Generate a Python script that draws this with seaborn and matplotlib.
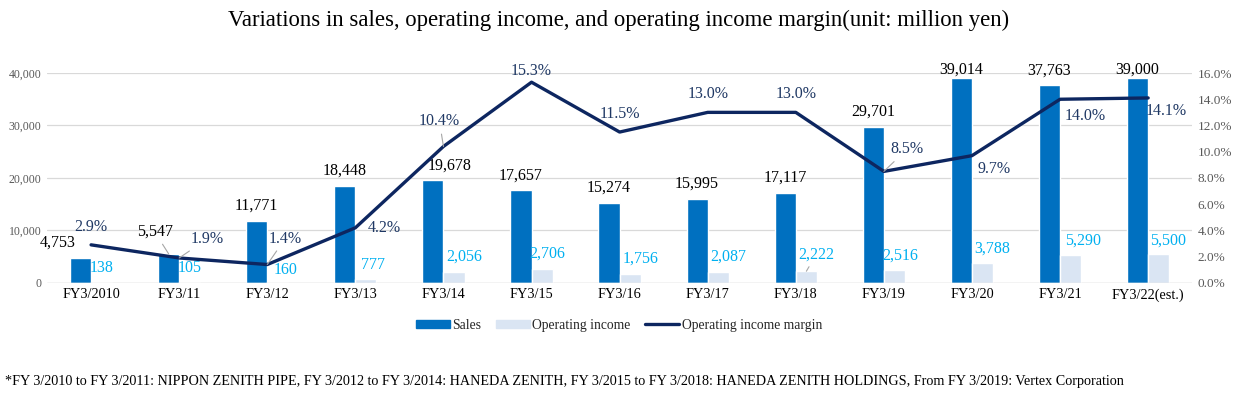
import numpy as np
import pandas as pd
import seaborn as sns
import matplotlib.pyplot as plt
from matplotlib.patches import Patch
from matplotlib.lines import Line2D

# chart data (million yen)
years = ["FY3/2010", "FY3/11", "FY3/12", "FY3/13", "FY3/14", "FY3/15", "FY3/16",
         "FY3/17", "FY3/18", "FY3/19", "FY3/20", "FY3/21", "FY3/22(est.)"]
sales = [4753, 5547, 11771, 18448, 19678, 17657, 15274, 15995, 17117, 29701, 39014, 37763, 39000]
op_income = [138, 105, 160, 777, 2056, 2706, 1756, 2087, 2222, 2516, 3788, 5290, 5500]
op_margin = [2.9, 1.9, 1.4, 4.2, 10.4, 15.3, 11.5, 13.0, 13.0, 8.5, 9.7, 14.0, 14.1]

# label placement tweaks (pixels), like the excel chart
sales_off = [(-23, 15), (-14, 22), (0, 15), (0, 15), (17, 14), (0, 15), (0, 15),
             (0, 15), (0, 15), (0, 15), (0, 9), (0, 14), (0, 9)]
op_off = [(0, 14), (0, 14), (8, 12), (7, 14), (10, 15), (5, 15), (10, 15),
          (10, 15), (10, 17), (6, 14), (10, 14), (12, 14), (9, 13)]
margin_off = [(0, 18), (28, 19), (18, 26), (29, 0), (-4, 25), (0, 11), (0, 18),
              (0, 18), (0, 18), (23, 22), (22, -13), (25, -17), (18, -13)]
sales_leader = [1]
op_leader = [8]
margin_leader = [1, 2, 4, 9]

SERIF = "Liberation Serif"
C_SALES = "#0070c0"
C_OP = "#dae5f3"
C_OP_TXT = "#00b0f0"
C_LINE = "#0d2660"
C_LINE_TXT = "#1f3864"
GRID = "#d9d9d9"

sns.set_theme(style="white")
plt.rcParams["font.family"] = [SERIF, "DejaVu Serif"]

df = pd.DataFrame({"year": years * 2,
                   "value": sales + op_income,
                   "series": ["Sales"] * len(years) + ["Operating income"] * len(years)})

fig = plt.figure(figsize=(12.38, 3.99), dpi=100)
ax = fig.add_axes([0.038, 0.291, 0.925, 0.526])

sns.barplot(data=df, x="year", y="value", hue="series", order=years,
            hue_order=["Sales", "Operating income"],
            palette=[C_SALES, C_OP], width=0.48, gap=0, saturation=1,
            legend=False, ax=ax)

ax.set_ylim(0, 40000)
ax.set_xlim(-0.5, len(years) - 0.5)
ax.set_yticks(np.arange(0, 40001, 10000))
ax.set_yticklabels([f"{v:,}" for v in range(0, 40001, 10000)], fontsize=8.5, color="#595959")
ax.set_xticks(range(len(years)))
ax.set_xticklabels(years, fontsize=10.3, color="black")
ax.set_xlabel("")
ax.set_ylabel("")
ax.grid(axis="y", color=GRID, lw=0.9)
ax.set_axisbelow(True)
for s in ["top", "right", "left", "bottom"]:
    ax.spines[s].set_visible(False)
ax.axhline(0, color=GRID, lw=1.0, zorder=1)
ax.tick_params(axis="both", length=0, pad=4)

leader = dict(arrowstyle="-", color="#a6a6a6", lw=0.8, shrinkA=1, shrinkB=0)

for i, v in enumerate(sales):
    ap = leader if i in sales_leader else None
    ax.annotate(f"{v:,}", xy=(i - 0.12, v), xytext=sales_off[i], textcoords="offset pixels",
                ha="center", va="center", fontsize=11.5, color="black", arrowprops=ap)
for i, v in enumerate(op_income):
    ap = leader if i in op_leader else None
    ax.annotate(f"{v:,}", xy=(i + 0.12, v), xytext=op_off[i], textcoords="offset pixels",
                ha="center", va="center", fontsize=11.5, color=C_OP_TXT, arrowprops=ap)

ax2 = ax.twinx()
line_df = pd.DataFrame({"pos": np.arange(len(years)), "margin": op_margin})
sns.lineplot(data=line_df, x="pos", y="margin", color=C_LINE, lw=2.4, sort=False, ax=ax2)
ax2.set_ylim(0, 16)
ax2.set_yticks(np.arange(0, 16.1, 2))
ax2.set_yticklabels([f"{v:.1f}%" for v in np.arange(0, 16.1, 2)], fontsize=9.5, color="#595959")
ax2.set_ylabel("")
ax2.set_xlim(-0.5, len(years) - 0.5)
for s in ["top", "right", "left", "bottom"]:
    ax2.spines[s].set_visible(False)
ax2.tick_params(axis="y", length=0, pad=4)
ax2.grid(False)

for i, v in enumerate(op_margin):
    ap = leader if i in margin_leader else None
    ax2.annotate(f"{v:.1f}%", xy=(i, v), xytext=margin_off[i], textcoords="offset pixels",
                 ha="center", va="center", fontsize=11.5, color=C_LINE_TXT, arrowprops=ap)

fig.suptitle("Variations in sales, operating income, and operating income margin(unit: million yen)",
             y=0.95, va="center", fontsize=16.4, color="black")

handles = [Patch(color=C_SALES, label="Sales"),
           Patch(color=C_OP, label="Operating income"),
           Line2D([], [], color=C_LINE, lw=2.4, label="Operating income margin")]
fig.legend(handles=handles, loc="center", bbox_to_anchor=(0.5, 0.185), ncol=3, frameon=False,
           fontsize=9.8, handlelength=2.5, handleheight=0.6, handletextpad=0.15, columnspacing=1.1)

fig.text(0.004, 0.045,
         "*FY 3/2010 to FY 3/2011: NIPPON ZENITH PIPE, FY 3/2012 to FY 3/2014: HANEDA ZENITH, "
         "FY 3/2015 to FY 3/2018: HANEDA ZENITH HOLDINGS, From FY 3/2019: Vertex Corporation",
         fontsize=10.2, va="center", ha="left", color="black")

fig.savefig("out.png", dpi=100, facecolor="white")
